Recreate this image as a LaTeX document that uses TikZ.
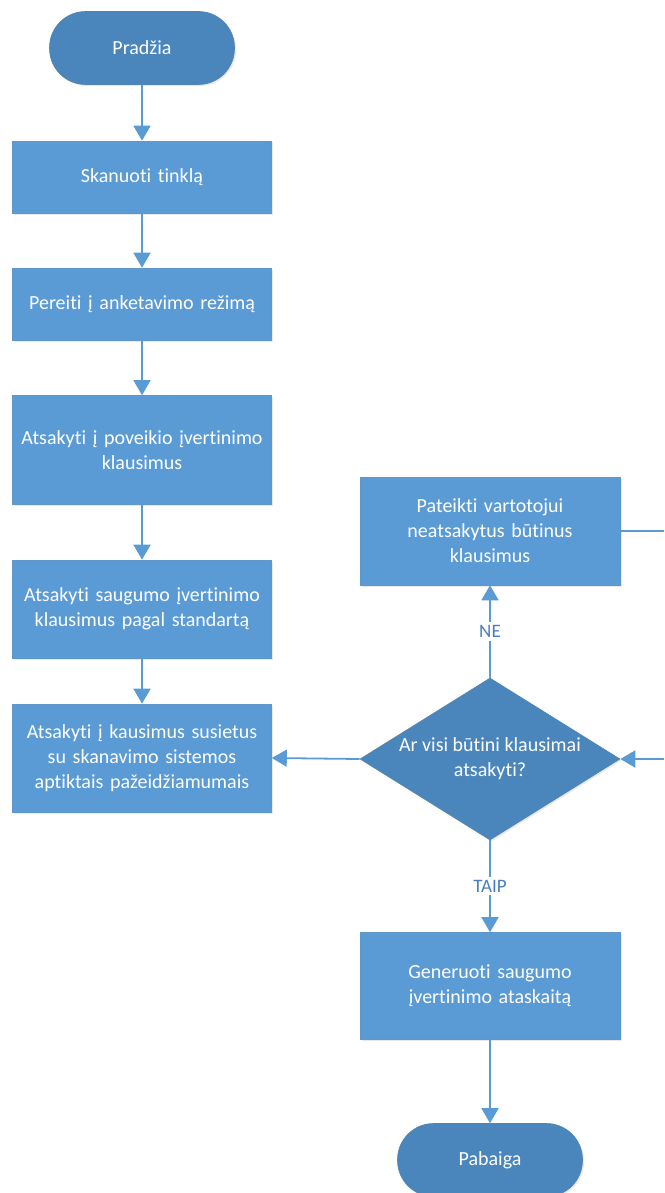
\documentclass[tikz,border=0pt]{standalone}
\usepackage{fontspec}
\setmainfont{Carlito}[Ligatures=CommonOff]
\usetikzlibrary{shapes.geometric,arrows.meta,shadows}
\definecolor{boxblue}{HTML}{5B9BD5}
\definecolor{darkblue}{HTML}{4A86BB}
\definecolor{lineblue}{HTML}{5B9BD5}
\definecolor{labelblue}{HTML}{4A7DBE}
\begin{document}
\begin{tikzpicture}[x=1pt,y=-1pt,
  every node/.style={font=\fontsize{20}{25}\selectfont},
  procbox/.style={rectangle, fill=boxblue, draw=boxblue!85!gray, line width=0.6pt,
    minimum width=259pt, text width=252pt, align=center, text=white, inner sep=0pt,
    drop shadow={opacity=0.18, shadow xshift=1.5pt, shadow yshift=-1.5pt}},
  termbox/.style={rectangle, rounded corners=36pt, fill=darkblue, draw=darkblue!85!gray, line width=0.6pt,
    minimum width=185pt, minimum height=73pt, align=center, text=white, inner sep=0pt,
    drop shadow={opacity=0.18, shadow xshift=1.5pt, shadow yshift=-1.5pt}},
  decbox/.style={diamond, fill=darkblue, draw=darkblue!85!gray, line width=0.6pt,
    minimum width=260pt, minimum height=162pt, inner sep=0pt,
    drop shadow={opacity=0.18, shadow xshift=1.5pt, shadow yshift=-1.5pt}},
  conn/.style={draw=lineblue, line width=1.8pt, -{Triangle[width=17pt,length=15pt]}},
  plainconn/.style={draw=lineblue, line width=1.8pt},
  lbl/.style={fill=white, text=labelblue, inner sep=3pt, font=\fontsize{19}{22}\selectfont}
]
\useasboundingbox (0,0) rectangle (664,1193);

\node[termbox] (start) at (142,48) {Pradžia};
\node[procbox, minimum height=72pt] (s1) at (142,177) {Skanuoti tinklą};
\node[procbox, minimum height=72pt] (s2) at (142,304) {Pereiti į anketavimo režimą};
\node[procbox, minimum height=109pt] (s3) at (142,450) {Atsakyti į poveikio įvertinimo\\klausimus};
\node[procbox, minimum height=98pt] (s4) at (142,609) {Atsakyti saugumo įvertinimo\\klausimus pagal standartą};
\node[procbox, minimum height=108pt] (s5) at (142,758) {Atsakyti į kausimus susietus\\su skanavimo sistemos\\aptiktais pažeidžiamumais};

\node[decbox] (dia) at (490,759) {};
\node[text=white, align=center] (diatext) at (dia.center) {Ar visi būtini klausimai\\atsakyti?};

\node[procbox, minimum width=260pt, minimum height=108pt] (pat) at (490,531) {Pateikti vartotojui\\neatsakytus būtinus\\klausimus};
\node[procbox, minimum width=260pt, minimum height=107pt] (gen) at (490,986) {Generuoti saugumo\\įvertinimo ataskaitą};
\node[termbox] (end) at (490,1160) {Pabaiga};

\coordinate (outA) at (664,531);
\coordinate (outB) at (664,759);

\draw[conn] (start) -- (s1);
\draw[conn] (s1) -- (s2);
\draw[conn] (s2) -- (s3);
\draw[conn] (s3) -- (s4);
\draw[conn] (s4) -- (s5);
\draw[conn] (dia.west) -- (s5.east);
\draw[conn] (dia.north) -- node[lbl] (ne) {NE} (pat.south);
\draw[conn] (dia.south) -- node[lbl] (taip) {TAIP} (gen.north);
\draw[conn] (gen) -- (end);
\draw[plainconn] (pat.east) -- (outA);
\draw[conn] (outB) -- (dia.east);
\end{tikzpicture}
\end{document}
